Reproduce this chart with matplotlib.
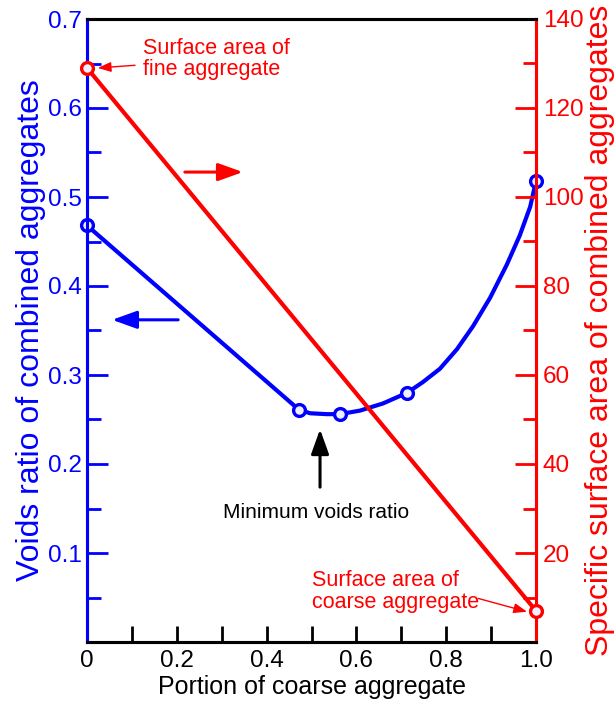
import numpy as np
import matplotlib
matplotlib.use('Agg')
import matplotlib.pyplot as plt
from matplotlib.ticker import MultipleLocator, FixedLocator

plt.rcParams['font.family'] = ['Liberation Sans', 'DejaVu Sans']

BLUE = '#0000ff'
RED = '#ff0000'

# voids ratio curve (traced), and the measured points on it
voids_x = [0, 0.472, 0.497, 0.534, 0.563, 0.608, 0.659, 0.713, 0.748, 0.786,
           0.824, 0.860, 0.898, 0.935, 0.964, 0.987, 1.0]
voids_y = [0.468, 0.261, 0.257, 0.256, 0.256, 0.260, 0.268, 0.280, 0.292, 0.307,
           0.329, 0.355, 0.387, 0.424, 0.457, 0.489, 0.518]
meas_x = [0, 0.472, 0.563, 0.713, 1.0]
meas_y = [0.468, 0.261, 0.256, 0.280, 0.518]

# specific surface area, fine and coarse aggregate
area_x = [0, 1.0]
area_y = [129, 7]

xtick_vals = [0, 0.2, 0.4, 0.6, 0.8, 1.0]
xtick_labels = ['0', '0.2', '0.4', '0.6', '0.8', '1.0']
ltick_vals = [0.1, 0.2, 0.3, 0.4, 0.5, 0.6, 0.7]
rtick_vals = [20, 40, 60, 80, 100, 120, 140]

fig = plt.figure(figsize=(6.15, 7.06), dpi=100)
ax = fig.add_axes([87/615, 64/706, 449/615, 623/706])
ax2 = ax.twinx()

ax.plot(voids_x, voids_y, color=BLUE, lw=3, solid_capstyle='round',
        solid_joinstyle='round', zorder=3)
ax.plot(meas_x, meas_y, 'o', color=BLUE, mfc='#eef0ff', ms=8.5, mew=2.4,
        clip_on=False, zorder=4)
ax2.plot(area_x, area_y, color=RED, lw=3, zorder=3)
ax2.plot(area_x, area_y, 'o', color=RED, mfc='#eef0ff', ms=8.5, mew=2.4,
         clip_on=False, zorder=4)

ax.set_xlim(0, 1.0)
ax.set_ylim(0, 0.7)
ax2.set_ylim(0, 140)

for a in (ax, ax2):
    a.spines['left'].set_color(BLUE)
    a.spines['right'].set_color(RED)
    a.spines['top'].set_color('black')
    a.spines['bottom'].set_color('black')
    for s in a.spines.values():
        s.set_linewidth(2.2)

ax.xaxis.set_major_locator(FixedLocator(xtick_vals))
ax.set_xticklabels(xtick_labels)
ax.xaxis.set_minor_locator(MultipleLocator(0.1))
ax.tick_params(axis='x', which='both', direction='in', length=11.5, width=2,
               color='black', labelsize=17.5, pad=6, top=False)

ax.yaxis.set_major_locator(FixedLocator(ltick_vals))
ax.set_yticklabels([f'{v:.1f}' for v in ltick_vals])
ax.yaxis.set_minor_locator(MultipleLocator(0.05))
ax.tick_params(axis='y', which='major', direction='in', length=15, width=2,
               color=BLUE, labelcolor=BLUE, labelsize=17.5, pad=4)
ax.tick_params(axis='y', which='minor', direction='in', length=10, width=2,
               color=BLUE)

ax2.yaxis.set_major_locator(FixedLocator(rtick_vals))
ax2.set_yticklabels([str(v) for v in rtick_vals])
ax2.yaxis.set_minor_locator(MultipleLocator(10))
ax2.tick_params(axis='y', which='major', direction='in', length=15, width=2,
                color=RED, labelcolor=RED, labelsize=17.5, pad=5)
ax2.tick_params(axis='y', which='minor', direction='in', length=9.5, width=2,
                color=RED)

ax.set_xlabel('Portion of coarse aggregate', fontsize=18, labelpad=2)
ax.set_ylabel('Voids ratio of combined aggregates', fontsize=23, color=BLUE,
              labelpad=1)
ax2.set_ylabel('Specific surface area of combined aggregates', fontsize=23,
               color=RED, labelpad=1)

# annotations, placed in voids-ratio units
tr = ax.transData
big_head = '-|>,head_length=0.75,head_width=0.27'
ax2.annotate('', xy=(0.347, 0.528), xytext=(0.218, 0.528), xycoords=tr, textcoords=tr,
             arrowprops=dict(arrowstyle=big_head, color=RED, lw=2.2,
                             mutation_scale=20, shrinkA=0, shrinkB=0))
ax2.annotate('', xy=(0.056, 0.362), xytext=(0.203, 0.362), xycoords=tr, textcoords=tr,
             arrowprops=dict(arrowstyle=big_head, color=BLUE, lw=2.2,
                             mutation_scale=20, shrinkA=0, shrinkB=0))
ax2.annotate('', xy=(0.519, 0.239), xytext=(0.519, 0.174), xycoords=tr, textcoords=tr,
             arrowprops=dict(arrowstyle=big_head, color='black', lw=2.2,
                             mutation_scale=20, shrinkA=0, shrinkB=0))
ax2.text(0.51, 0.146, 'Minimum voids ratio', transform=tr, fontsize=15,
         ha='center', va='center')

small_head = '-|>,head_length=0.8,head_width=0.3'
ax2.text(0.125, 0.655, 'Surface area of\nfine aggregate', transform=tr,
         fontsize=15.5, color=RED, ha='left', va='center', linespacing=1.05)
ax2.annotate('', xy=(0.024, 0.645), xytext=(0.107, 0.648), xycoords=tr, textcoords=tr,
             arrowprops=dict(arrowstyle=small_head, color=RED, lw=1.0,
                             mutation_scale=10, shrinkA=0, shrinkB=0))
ax2.text(0.501, 0.057, 'Surface area of\ncoarse aggregate', transform=tr,
         fontsize=15.5, color=RED, ha='left', va='center', linespacing=1.05)
ax2.annotate('', xy=(0.980, 0.034), xytext=(0.871, 0.049), xycoords=tr, textcoords=tr,
             arrowprops=dict(arrowstyle=small_head, color=RED, lw=1.0,
                             mutation_scale=10, shrinkA=0, shrinkB=0))

fig.savefig('out.png', dpi=100)
